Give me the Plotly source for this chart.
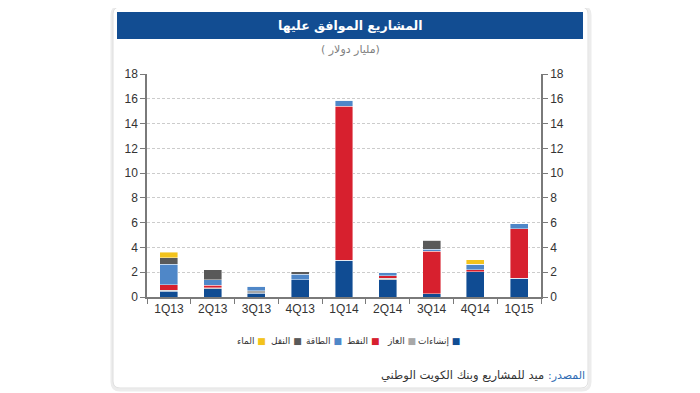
import plotly.graph_objects as go

quarters = ["1Q13", "2Q13", "3Q13", "4Q13", "1Q14", "2Q14", "3Q14", "4Q14", "1Q15"]
construction = [0.45, 0.65, 0.30, 1.40, 2.95, 1.40, 0.25, 2.05, 1.50]
gas = [0.10, 0.10, 0.20, 0.00, 0.00, 0.10, 0.00, 0.00, 0.00]
oil = [0.45, 0.20, 0.00, 0.00, 12.45, 0.20, 3.45, 0.15, 4.00]
power = [1.65, 0.45, 0.35, 0.45, 0.50, 0.30, 0.15, 0.45, 0.40]
transport = [0.50, 0.80, 0.00, 0.20, 0.00, 0.00, 0.75, 0.00, 0.00]
water = [0.45, 0.00, 0.00, 0.00, 0.00, 0.00, 0.00, 0.35, 0.00]

series_names = ["إنشاءات", "الغاز", "النفط", "الطاقة", "النقل", "الماء"]
series_values = [construction, gas, oil, power, transport, water]
series_colors = ["#104C93", "#A8A8A8", "#D7202E", "#4F87C8", "#595959", "#F3C31C"]

y_ticks = list(range(0, 19, 2))

title_text = "المشاريع الموافق عليها"
subtitle_text = "( مليار دولار)"
source_label = "المصدر:\u200f"
source_text = "ميد للمشاريع وبنك الكويت الوطني"

# page offset (default body margin) and plot area in page pixels
OFF = 8
PX0, PX1, PY0, PY1 = 147, 541, 74, 297
W, H = 700, 393


def px(x):
    return (x - PX0) / (PX1 - PX0)


def py(y):
    return (PY1 - y) / (PY1 - PY0)


def rounded_rect(x0, y0, x1, y1, r):
    # pixel box -> paper path with rounded corners
    pts = [
        f"M{px(x0 + r)},{py(y0)}",
        f"L{px(x1 - r)},{py(y0)}",
        f"Q{px(x1)},{py(y0)} {px(x1)},{py(y0 + r)}",
        f"L{px(x1)},{py(y1 - r)}",
        f"Q{px(x1)},{py(y1)} {px(x1 - r)},{py(y1)}",
        f"L{px(x0 + r)},{py(y1)}",
        f"Q{px(x0)},{py(y1)} {px(x0)},{py(y1 - r)}",
        f"L{px(x0)},{py(y0 + r)}",
        f"Q{px(x0)},{py(y0)} {px(x0 + r)},{py(y0)}",
        "Z",
    ]
    return " ".join(pts)


fig = go.Figure()
for name, vals, col in zip(series_names, series_values, series_colors):
    fig.add_trace(go.Bar(
        x=quarters, y=vals, name=name,
        marker=dict(color=col, line=dict(color="rgba(255,255,255,0.7)", width=0.6)),
        showlegend=False,
    ))
# invisible trace for the right axis
fig.add_trace(go.Scatter(x=quarters, y=[None] * len(quarters), yaxis="y2",
                         showlegend=False, hoverinfo="skip"))

axis_color = "#7a7a7a"
tick_font = dict(family="Liberation Sans, Arial, sans-serif", size=12, color="#333333")

fig.update_layout(
    width=W - OFF, height=H - OFF,
    margin=dict(l=PX0 - OFF, r=W - PX1, t=PY0 - OFF, b=H - PY1),
    paper_bgcolor="white",
    plot_bgcolor="rgba(0,0,0,0)",
    barmode="stack",
    bargap=0.59,
    xaxis=dict(
        range=[-0.5, len(quarters) - 0.5],
        showline=True, linecolor=axis_color, linewidth=1.5,
        ticks="outside", tickson="boundaries", ticklen=5, tickcolor=axis_color,
        tickfont=tick_font, showgrid=False, fixedrange=True,
    ),
    yaxis=dict(
        range=[0, 18], tickvals=y_ticks,
        showline=True, linecolor=axis_color, linewidth=1.5,
        ticks="outside", ticklen=5, tickcolor=axis_color,
        tickfont=tick_font,
        showgrid=True, gridcolor="#cccccc", gridwidth=1, griddash="3px,2px",
        zeroline=False,
    ),
    yaxis2=dict(
        range=[0, 18], tickvals=y_ticks, overlaying="y", side="right",
        showline=True, linecolor=axis_color, linewidth=1.5,
        ticks="outside", ticklen=5, tickcolor=axis_color,
        tickfont=tick_font, showgrid=False, zeroline=False,
    ),
)

shapes = [
    # soft shadow of the card
    dict(type="path", xref="paper", yref="paper",
         path=rounded_rect(112, 7, 590, 390, 8),
         line=dict(color="#ececec", width=3), fillcolor="white", layer="below"),
    # card
    dict(type="path", xref="paper", yref="paper",
         path=rounded_rect(113, 7, 588, 388, 7),
         line=dict(color="#dedede", width=1), fillcolor="white", layer="below"),
    # title bar
    dict(type="rect", xref="paper", yref="paper",
         x0=px(117), x1=px(583), y0=py(39), y1=py(12),
         line=dict(width=0), fillcolor="#124D92", layer="below"),
]

annotations = [
    dict(text=f"<b>{title_text}</b>", xref="paper", yref="paper", x=px(350), y=py(25.5),
         xanchor="center", yanchor="middle", showarrow=False,
         font=dict(family="DejaVu Sans", size=12.5, color="white")),
    dict(text=subtitle_text, xref="paper", yref="paper", x=px(350), y=py(50),
         xanchor="center", yanchor="middle", showarrow=False,
         font=dict(family="DejaVu Sans", size=11, color="#7f7f7f")),
    dict(text=source_label, xref="paper", yref="paper", x=px(587), y=py(375),
         xanchor="right", yanchor="middle", showarrow=False,
         font=dict(family="DejaVu Sans", size=11, color="#2f6cb3")),
    dict(text=source_text, xref="paper", yref="paper", x=px(546), y=py(375),
         xanchor="right", yanchor="middle", showarrow=False,
         font=dict(family="DejaVu Sans", size=11.5, color="#333333")),
]

# legend (right-to-left, swatch to the right of label)
legend_right_edges = [268, 304, 344, 381, 418, 462]
for name, col, xr in zip(series_names[::-1], series_colors[::-1], legend_right_edges):
    annotations.append(dict(
        text=f"{name} <span style='color:{col}'>■</span>",
        xref="paper", yref="paper", x=px(xr), y=py(341),
        xanchor="right", yanchor="middle", showarrow=False,
        font=dict(family="DejaVu Sans", size=9, color="#333333"),
    ))

fig.update_layout(shapes=shapes, annotations=annotations)
fig.write_html("out.html")
